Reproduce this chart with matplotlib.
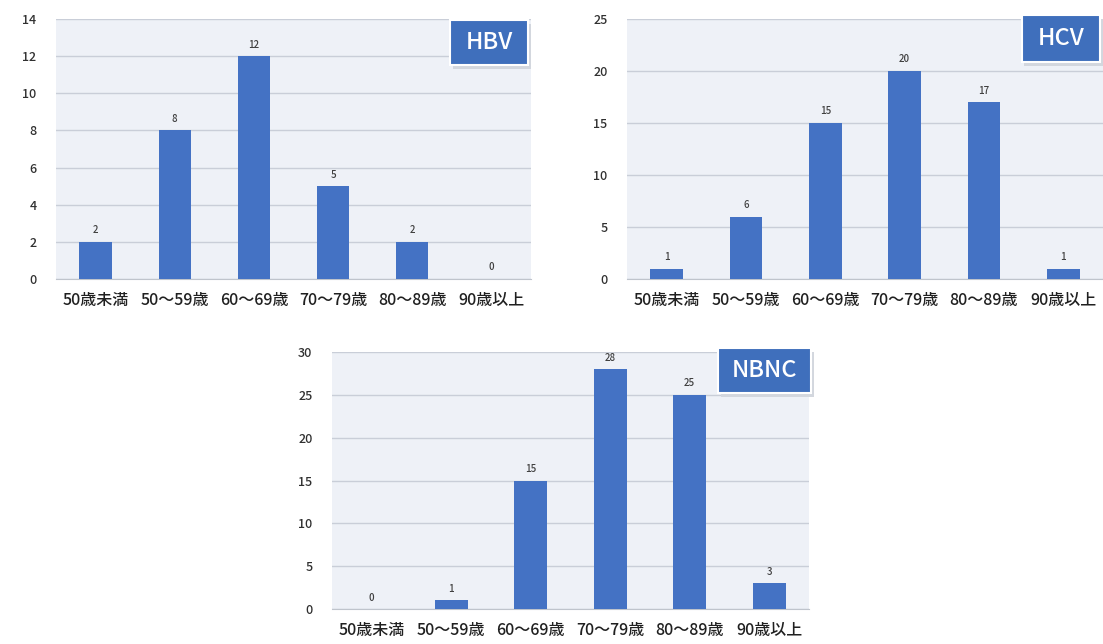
import matplotlib
matplotlib.use("Agg")
import matplotlib.pyplot as plt
import numpy as np

plt.rcParams['font.family'] = ['Noto Sans CJK JP', 'DejaVu Sans']

age_groups = ['50歳未満', '50〜59歳', '60〜69歳', '70〜79歳', '80〜89歳', '90歳以上']
hbv = [2, 8, 12, 5, 2, 0]
hcv = [1, 6, 15, 20, 17, 1]
nbnc = [0, 1, 15, 28, 25, 3]

BAR = '#4472c4'
BG = '#eef1f7'
GRID = '#c9ced8'
W, H = 1103, 644


def px_axes(fig, x0, y0, x1, y1):
    # pixel box (top-left origin) -> figure fraction
    return fig.add_axes([x0 / W, 1 - y1 / H, (x1 - x0) / W, (y1 - y0) / H])


def panel(ax, values, ymax, step, name, box):
    x = np.arange(len(values))
    ax.set_facecolor(BG)
    ax.bar(x, values, width=0.41, color=BAR, zorder=3)
    for xi, v in zip(x, values):
        ax.text(xi, v + ymax * 0.025, str(v), ha='center', va='bottom',
                fontsize=7, fontweight='medium', color='#404040', zorder=4)
    ax.set_xlim(-0.5, len(values) - 0.5)
    ax.set_ylim(0, ymax)
    ax.set_yticks(np.arange(0, ymax + 1, step))
    ax.yaxis.grid(True, color=GRID, linewidth=1, zorder=1)
    ax.set_axisbelow(True)
    for s in ['top', 'right', 'left']:
        ax.spines[s].set_visible(False)
    ax.spines['bottom'].set_color('#bfc4cc')
    ax.set_xticks(x)
    ax.set_xticklabels(age_groups, fontsize=11.5, fontweight='medium', color='#202020')
    ax.tick_params(axis='y', length=0, labelsize=9, colors='#303030', pad=14)
    ax.tick_params(axis='x', length=0, pad=9)
    for lab in ax.get_yticklabels():
        lab.set_fontweight('medium')
    # series name tag in the upper right corner
    bx, by, bw, bh = box
    ax.add_patch(plt.Rectangle((bx + 0.005, by - 0.015), bw, bh, transform=ax.transAxes,
                               facecolor='#d3d7de', edgecolor='none', zorder=5, clip_on=False))
    ax.add_patch(plt.Rectangle((bx, by), bw, bh, transform=ax.transAxes,
                               facecolor='#3f6fbc', edgecolor='white', linewidth=1.5,
                               zorder=6, clip_on=False))
    ax.text(bx + bw / 2, by + bh / 2, name, transform=ax.transAxes, ha='center',
            va='center', color='white', fontsize=17, fontweight='medium', zorder=7)


fig = plt.figure(figsize=(W / 100, H / 100), dpi=100)

ax1 = px_axes(fig, 56, 19, 531, 279)
panel(ax1, hbv, 14, 2, 'HBV', (0.83, 0.823, 0.164, 0.173))

ax2 = px_axes(fig, 627, 19, 1103, 279)
panel(ax2, hcv, 25, 5, 'HCV', (0.83, 0.835, 0.164, 0.18))

ax3 = px_axes(fig, 332, 352, 809, 609)
panel(ax3, nbnc, 30, 5, 'NBNC', (0.81, 0.84, 0.195, 0.175))

fig.savefig('out.png', dpi=100)
